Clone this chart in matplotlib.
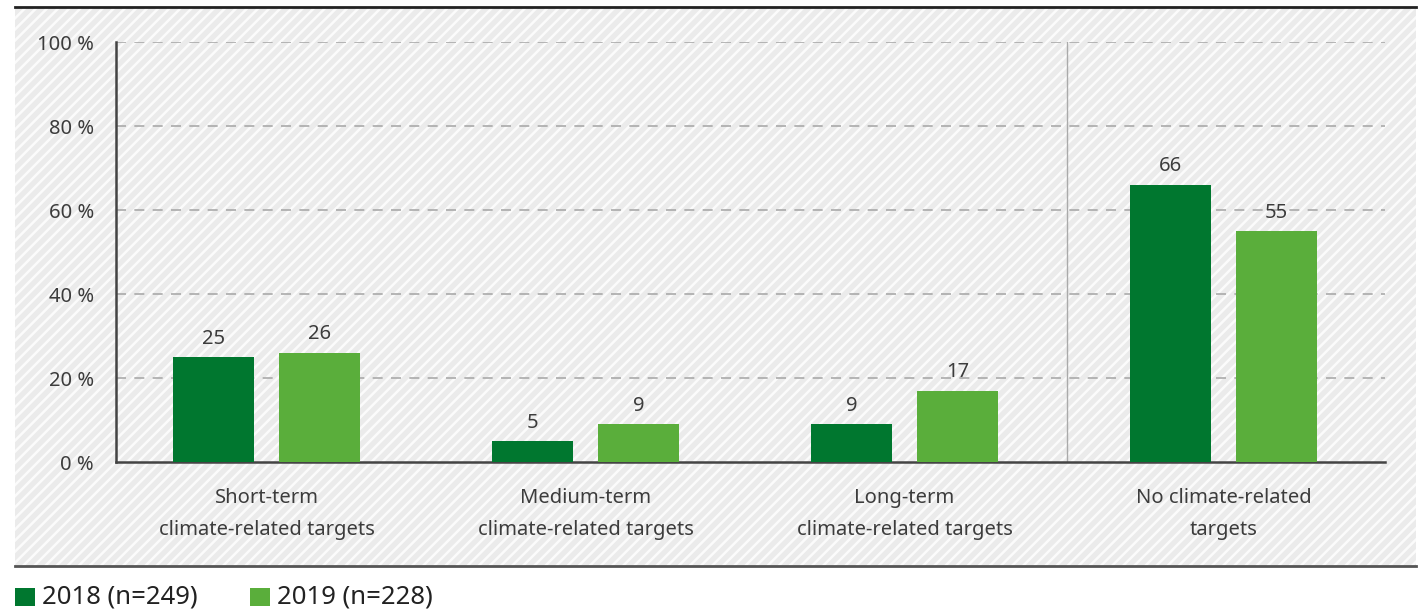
import matplotlib.pyplot as plt
import numpy as np
from matplotlib.patches import Rectangle

categories = ["Short-term\nclimate-related targets", "Medium-term\nclimate-related targets",
              "Long-term\nclimate-related targets", "No climate-related\ntargets"]
vals_2018 = [25, 5, 9, 66]
vals_2019 = [26, 9, 17, 55]
series_labels = ["2018 (n=249)", "2019 (n=228)"]
yticks = [0, 20, 40, 60, 80, 100]

dark = "#00772f"
light = "#5aae3b"
txt = "#3c3c3c"

plt.rcParams['font.family'] = ['Noto Sans', 'DejaVu Sans']
plt.rcParams['hatch.linewidth'] = 1.8

W, H = 1424, 611
fig = plt.figure(figsize=(W / 100, H / 100), dpi=100)

# hatched background panel
bg = Rectangle((15 / W, 1 - 566 / H), (1416 - 15) / W, (566 - 7) / H, transform=fig.transFigure,
               facecolor="#ebebeb", edgecolor="#fbfbfb", hatch="///", lw=0, zorder=-10)
fig.patches.append(bg)
fig.add_artist(plt.Line2D([15 / W, 1416 / W], [1 - 7 / H, 1 - 7 / H], color="#222222", lw=2))
fig.add_artist(plt.Line2D([15 / W, 1416 / W], [1 - 566 / H, 1 - 566 / H], color="#555555", lw=2))

ax = fig.add_axes([116 / W, 1 - 462 / H, (1385 - 116) / W, (462 - 42) / H], zorder=5)
ax.set_facecolor("none")

x = np.arange(len(categories))
w = 0.254
off = 0.166
b1 = ax.bar(x - off, vals_2018, w, color=dark, zorder=3)
b2 = ax.bar(x + off, vals_2019, w, color=light, zorder=3)
for bars in (b1, b2):
    for r in bars:
        ax.text(r.get_x() + r.get_width() / 2, r.get_height() + 2.0, str(int(r.get_height())),
                ha="center", va="bottom", fontsize=14.5, color=txt)

ax.set_xlim(-0.472, 3.506)
ax.set_ylim(0, 100)
ax.set_yticks(yticks)
ax.set_yticklabels([f"{v} %" for v in yticks], fontsize=14.5, color=txt)
ax.set_xticks(x)
ax.set_xticklabels(categories, fontsize=14.5, color=txt, linespacing=1.8)
ax.tick_params(axis="both", length=0)
ax.tick_params(axis="y", pad=16)
ax.tick_params(axis="x", pad=19)

for y in yticks[1:]:
    ax.axhline(y, color="#aaaaaa", lw=1.2, ls=(0, (6, 5)), zorder=1)
ax.axvline(2.509, color="#aaaaaa", lw=1, zorder=1)

for s in ["top", "right"]:
    ax.spines[s].set_visible(False)
ax.spines["left"].set_color("#444444")
ax.spines["bottom"].set_color("#444444")
ax.spines["left"].set_linewidth(1.8)
ax.spines["bottom"].set_linewidth(1.8)

# legend
for i, (lab, col) in enumerate(zip(series_labels, [dark, light])):
    x0 = 15 + i * 235
    fig.patches.append(Rectangle((x0 / W, 1 - 606 / H), 20 / W, 18 / H, transform=fig.transFigure,
                                 facecolor=col, edgecolor="none"))
    fig.text((x0 + 27) / W, 1 - 597 / H, lab, fontsize=18.5, color="#222222", va="center", ha="left")

fig.savefig("out.png", dpi=100)
